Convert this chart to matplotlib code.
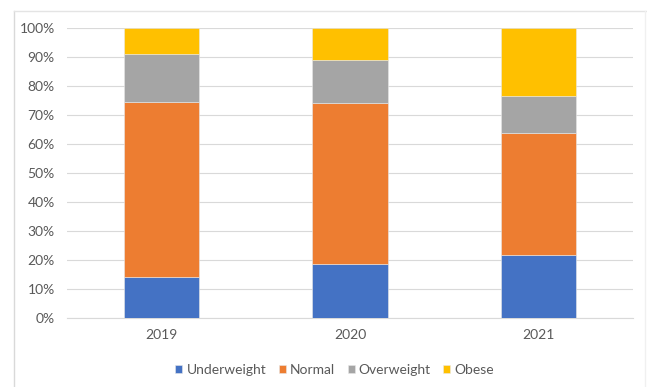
import numpy as np
import matplotlib
matplotlib.use("Agg")
import matplotlib.pyplot as plt
from matplotlib.lines import Line2D
from matplotlib.ticker import PercentFormatter

plt.rcParams["font.family"] = ["Lato", "DejaVu Sans"]

years = ["2019", "2020", "2021"]
underweight = [14.0, 18.7, 21.7]
normal = [60.6, 55.3, 42.0]
overweight = [16.4, 15.1, 12.9]
obese = [9.0, 10.9, 23.4]

series = [("Underweight", underweight, "#4472C4"),
          ("Normal", normal, "#ED7D31"),
          ("Overweight", overweight, "#A5A5A5"),
          ("Obese", obese, "#FFC000")]

fig = plt.figure(figsize=(6.47, 3.87), dpi=100)
ax = fig.add_axes([0.104, 0.178, 0.874, 0.75])

x = np.arange(len(years))
bottom = np.zeros(len(years))
for name, vals, col in series:
    ax.bar(x, vals, 0.4, bottom=bottom, color=col, label=name,
           edgecolor="#e8e8e8", linewidth=0.4, zorder=3)
    bottom += np.array(vals)

ax.set_xlim(-0.5, len(years) - 0.5)
ax.set_ylim(0, 100)
ax.set_yticks(range(0, 101, 10))
ax.yaxis.set_major_formatter(PercentFormatter(decimals=0))
ax.set_xticks(x)
ax.set_xticklabels(years)
ax.grid(axis="y", color="#d9d9d9", linewidth=0.8, zorder=0)
for s in ["top", "right", "left"]:
    ax.spines[s].set_visible(False)
ax.spines["bottom"].set_color("#d9d9d9")
ax.tick_params(length=0, labelsize=10, colors="#595959")
ax.tick_params(axis="y", pad=9)
ax.tick_params(axis="x", pad=8)

ax.legend(loc="upper center", bbox_to_anchor=(0.473, -0.115), ncol=4, frameon=False,
          fontsize=10, handlelength=0.5, handleheight=0.5, handletextpad=0.3,
          columnspacing=0.9, labelcolor="#595959")

# light frame around the chart (left and top edges visible)
fig.add_artist(Line2D([0.021, 0.021], [0.0, 0.972], transform=fig.transFigure,
                      color="#d9d9d9", linewidth=1.0))
fig.add_artist(Line2D([0.021, 1.0], [0.972, 0.972], transform=fig.transFigure,
                      color="#e4e4e4", linewidth=1.0))
fig.add_artist(Line2D([0.997, 0.997], [0.0, 0.972], transform=fig.transFigure,
                      color="#f0f0f0", linewidth=1.0))

fig.savefig("out.png", dpi=100)
